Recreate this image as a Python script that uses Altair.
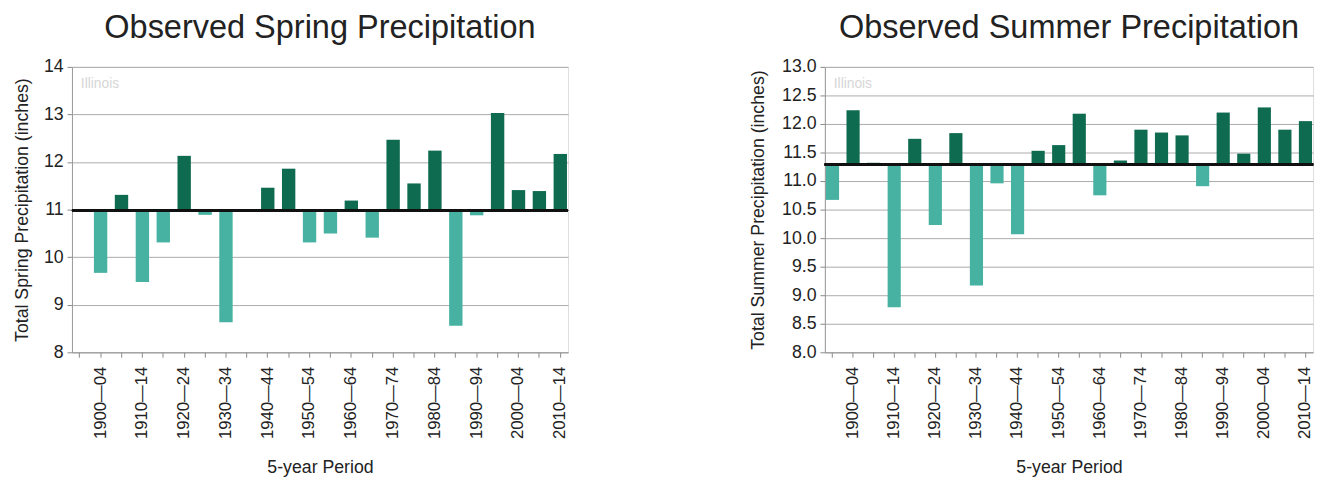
import altair as alt
import pandas as pd

periods = ["1895—99", "1900—04", "1905—09", "1910—14", "1915—19", "1920—24",
           "1925—29", "1930—34", "1935—39", "1940—44", "1945—49", "1950—54",
           "1955—59", "1960—64", "1965—69", "1970—74", "1975—79", "1980—84",
           "1985—89", "1990—94", "1995—99", "2000—04", "2005—09", "2010—14"]

spring = [11.01, 9.67, 11.31, 9.48, 10.31, 12.13, 10.89, 8.63, 11.00, 11.46,
          11.86, 10.31, 10.50, 11.19, 10.41, 12.47, 11.55, 12.24, 8.56, 10.88,
          13.03, 11.41, 11.39, 12.17]
summer = [10.67, 12.24, 11.32, 8.79, 11.74, 10.23, 11.84, 9.17, 10.96, 10.07,
          11.53, 11.63, 12.18, 10.75, 11.36, 11.90, 11.85, 11.80, 10.91, 12.20,
          11.48, 12.29, 11.90, 12.05]

spring_mean = 10.98
summer_mean = 11.29

spring_ticks = [8, 9, 10, 11, 12, 13, 14]
summer_ticks = [8.0, 8.5, 9.0, 9.5, 10.0, 10.5, 11.0, 11.5, 12.0, 12.5, 13.0]

FONT = "Liberation Sans"
POS = "#0f6b4f"
NEG = "#48b2a2"


def panel(values, mean, ticks, fmt, title, ytitle, width, ypad, ttlpad):
    df = pd.DataFrame({"period": periods, "value": values})
    df["sign"] = ["above" if v >= mean else "below" for v in values]
    xenc = alt.X("period:N", sort=periods,
                 scale=alt.Scale(paddingInner=0.36, paddingOuter=0.05),
                 axis=alt.Axis(title="5-year Period", labelAngle=270,
                               labelExpr="substring(datum.label, 3, 4) == '0' ? datum.label : ''",
                               labelFont=FONT, labelFontSize=17, labelColor="#222",
                               labelPadding=9, tickSize=5, tickColor="#888",
                               domainColor="#999", titleFont=FONT, titleFontSize=18,
                               titleFontWeight="normal", titleColor="#222",
                               titlePadding=20, labelOverlap=False))
    yscale = alt.Scale(domain=[ticks[0], ticks[-1]], nice=False, zero=False)
    yaxis = alt.Axis(title=ytitle, values=ticks, format=fmt,
                     labelFont=FONT, labelFontSize=18, labelColor="#222",
                     labelPadding=4, tickSize=5, tickColor="#888",
                     domainColor="#999", gridColor="#aaa",
                     labelOverlap=False,
                     titleFont=FONT, titleFontSize=18,
                     titleFontWeight="normal", titleColor="#222",
                     titlePadding=ypad)
    bars = alt.Chart(df).mark_bar().encode(
        x=xenc,
        y=alt.Y("value:Q", scale=yscale, axis=yaxis),
        y2=alt.datum(mean),
        color=alt.Color("sign:N", scale=alt.Scale(domain=["above", "below"], range=[POS, NEG]),
                        legend=None),
    )
    rule = alt.Chart(df).mark_rule(color="#111", strokeWidth=2).encode(
        y=alt.YDatum(mean, scale=yscale, axis=yaxis)
    )
    label = alt.Chart(pd.DataFrame({"t": ["Illinois"]})).mark_text(
        align="left", baseline="middle", font=FONT, fontSize=14, color="#d6d6d6"
    ).encode(x=alt.value(9), y=alt.value(17), text="t:N")
    return alt.layer(bars, rule, label).properties(
        width=width, height=290,
        title=alt.TitleParams(title, font=FONT, fontSize=33, fontWeight="normal",
                              color="#222", anchor="middle", offset=ttlpad),
    )


left = panel(spring, spring_mean, spring_ticks, "d", "Observed Spring Precipitation",
             "Total Spring Precipitation (inches)", 504, 12, 13)
right = panel(summer, summer_mean, summer_ticks, ".1f", "Observed Summer Precipitation",
              "Total Summer Precipitation (inches)", 496, 14, 13)

chart = alt.hconcat(left, right, spacing=182).properties(
    padding={"top": 0, "left": 5, "right": 2, "bottom": 5}
).configure_view(
    stroke="#999", strokeWidth=1
).configure(background="white")

chart.save("out.html", embed_options={"renderer": "svg", "actions": False})
